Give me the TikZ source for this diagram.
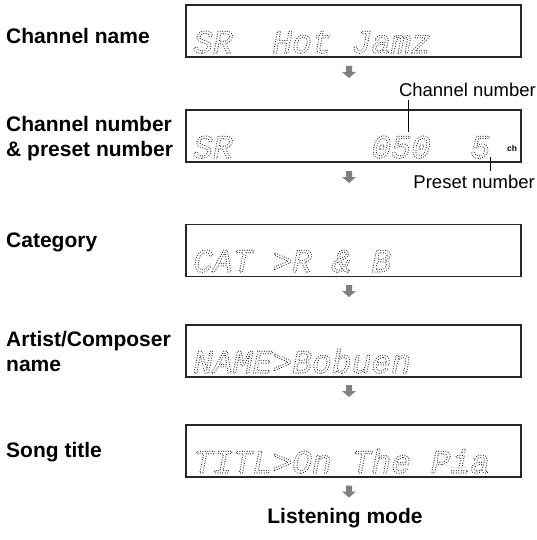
\documentclass[tikz,border=0pt]{standalone}
\usepackage{fontspec}
\setmainfont{Liberation Sans}
\newfontfamily\lcdfont{Liberation Mono}

% texte en pointillés (contour en points)
\newcommand{\dotmatrix}[1]{\special{pdf:literal direct 1 Tr 1.2 w 1 J [0 2.4] 0 d}#1\special{pdf:literal direct 0 Tr 0 J [] 0 d}}

\begin{document}
\begin{tikzpicture}[x=1pt, y=-1pt,
		lcdbox/.style={draw=black!85, line width=1.3pt, minimum width=335pt, minimum height=52pt, inner sep=0pt},
		lcdtext/.style={anchor=base west, inner sep=0pt, text=black!85, font=\lcdfont\itshape\fontsize{33}{36}\selectfont},
		stagename/.style={anchor=west, inner sep=0pt, align=left, font=\bfseries\fontsize{21}{25}\selectfont},
		callout/.style={anchor=base east, inner sep=0pt, font=\fontsize{18.5}{22}\selectfont},
		leader/.style={line width=1pt},
		nextarrow/.pic={\fill[black!50] (-3,-6) -- (3,-6) -- (3,0) -- (7,0) -- (0,6) -- (-7,0) -- (-3,0) -- cycle;}]
	\useasboundingbox (0,0) rectangle (537,540);
	%Afficheurs
	\node[lcdbox] (D1) at (353.5,31) {};
	\node[lcdbox] (D2) at (353.5,136) {};
	\node[lcdbox] (D3) at (353.5,250.5) {};
	\node[lcdbox] (D4) at (353.5,351) {};
	\node[lcdbox] (D5) at (353.5,451) {};
	
	\node[lcdtext] (T1) at (193,53) {\dotmatrix{SR~~Hot~Jamz}};
	\node[lcdtext] (T2) at (193,158) {\dotmatrix{SR~~~~~~~050~~5}};
	\node[lcdtext] (T3) at (193,272) {\dotmatrix{CAT~>R~\&~B}};
	\node[lcdtext] (T4) at (193,373) {\dotmatrix{NAME>Bobuen}};
	\node[lcdtext] (T5) at (193,473) {\dotmatrix{TITL>On~The~Pia}};
	\node[anchor=base west, inner sep=0pt, font=\bfseries\fontsize{8.5}{9}\selectfont] (CH) at (507,152) {ch};
	
	%Noms des étapes
	\node[stagename] (L1) at (6,35.5) {Channel name};
	\node[stagename] (L2) at (6,138.5) {Channel number\\\& preset number};
	\node[stagename] (L3) at (6,242.5) {Category};
	\node[stagename] (L4) at (6,351) {Artist/Composer\\name};
	\node[stagename] (L5) at (6,452.5) {Song title};
	\node[stagename, anchor=base] (LM) at (345,523) {Listening mode};
	
	%Flèches
	\pic (A1) at (349,72) {nextarrow};
	\pic (A2) at (349,177) {nextarrow};
	\pic (A3) at (349,291) {nextarrow};
	\pic (A4) at (349,391) {nextarrow};
	\pic (A5) at (349,491.5) {nextarrow};
	
	%Repères
	\node[callout] (CN) at (536,97) {Channel number};
	\node[callout] (PN) at (535,188) {Preset number};
	\coordinate (CNtip) at (408,132);
	\coordinate (PNtip) at (490,157);
	\draw[leader, shorten <=3pt] (CN.south -| CNtip) -- (CNtip);
	\draw[leader, shorten >=3pt] (PNtip) -- (PNtip |- PN.north);
\end{tikzpicture}
\end{document}
